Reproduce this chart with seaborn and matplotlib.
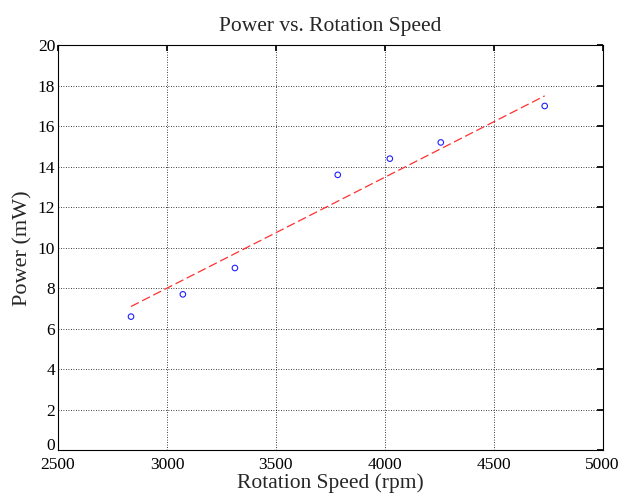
import pandas as pd
import seaborn as sns
import matplotlib.pyplot as plt

# measured points
speed = [2835, 3073, 3312, 3784, 4023, 4257, 4734]
power = [6.6, 7.7, 9.0, 13.6, 14.4, 15.2, 17.0]

# fitted line end points
fit_speed = [2835, 4734]
fit_power = [7.1, 17.5]

x_ticks = [2500, 3000, 3500, 4000, 4500, 5000]
y_ticks = [0, 2, 4, 6, 8, 10, 12, 14, 16, 18, 20]

sns.set_theme(style="white")
plt.rcParams['font.family'] = ['Liberation Serif', 'DejaVu Serif']

df = pd.DataFrame({'speed': speed, 'power': power})
df_fit = pd.DataFrame({'speed': fit_speed, 'power': fit_power})

fig = plt.figure(figsize=(6.26, 4.97), dpi=100)
ax = fig.add_axes([0.0927, 0.094, 0.870, 0.815])

sns.lineplot(data=df_fit, x='speed', y='power', ax=ax, color='#ff3030',
             linestyle=(0, (7, 3)), linewidth=0.9)
sns.scatterplot(data=df, x='speed', y='power', ax=ax, marker='o', s=16,
                facecolor='none', edgecolor='#2020ff', linewidth=0.8)

ax.set_xlim(2500, 5000)
ax.set_ylim(0, 20)
ax.set_xticks(x_ticks)
ax.set_yticks(y_ticks)
ax.grid(True, color='black', linestyle=(0, (1, 2)), linewidth=0.6)
ax.tick_params(direction='in', top=True, right=True, length=4,
               labelsize=12.5, colors='black', pad=2)
ax.tick_params(axis='x', pad=5)
for sp in ax.spines.values():
    sp.set_color('black')
    sp.set_linewidth(0.8)

# matlab puts the bottom "0" a bit above the corner
ax.get_yticklabels()[0].set_verticalalignment('baseline')

ax.set_title('Power vs. Rotation Speed', fontsize=15.5, pad=10)
ax.set_xlabel('Rotation Speed (rpm)', fontsize=15.5, labelpad=0)
ax.set_ylabel('Power (mW)', fontsize=16, labelpad=4)

fig.savefig('out.png', dpi=100)
